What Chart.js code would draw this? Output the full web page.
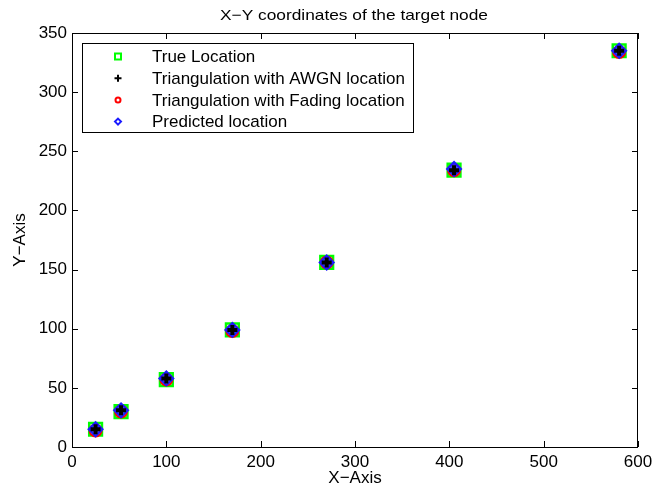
<!DOCTYPE html>
<html>
<head>
<meta charset="utf-8">
<script src="https://cdn.jsdelivr.net/npm/chart.js@4.4.0/dist/chart.umd.min.js"></script>
<style>
  html, body { margin: 0; padding: 0; background: #fff; }
  #wrap { width: 653px; height: 489px; }
</style>
</head>
<body>
<div id="wrap"><canvas id="chart" width="653" height="489"></canvas></div>
<script>
// data
const trueX = [25, 52, 100, 170, 270, 405, 580];
const trueY = [15, 30, 57, 99, 156, 234, 335];
const awgnX = [25, 52, 100, 170, 270, 405, 580];
const awgnY = [15, 31, 58, 99, 156, 234, 335];
const fadingX = [25, 52, 100, 170, 270, 405, 580];
const fadingY = [14, 30, 57, 98, 156, 234, 334];
const predX = [25, 52, 100, 170, 270, 405, 580];
const predY = [15, 31, 58, 99, 156, 235, 335];

const xTicks = [0, 100, 200, 300, 400, 500, 600];
const yTicks = [0, 50, 100, 150, 200, 250, 300, 350];

const labels = ["True Location", "Triangulation with AWGN location",
  "Triangulation with Fading location", "Predicted location"];

const FONT = "'Liberation Sans', Arial, sans-serif";

function toPoints(xs, ys) {
  return xs.map((x, i) => ({ x: x, y: ys[i] }));
}

// draws the boxed frame with inside ticks, MATLAB style, plus the legend
const framePlugin = {
  id: "frame",
  afterDraw(chart) {
    const ctx = chart.ctx;
    const a = chart.chartArea;
    const xs = chart.scales.x, ys = chart.scales.y;
    ctx.save();
    ctx.strokeStyle = "#000";
    ctx.lineWidth = 1;
    ctx.strokeRect(a.left + 0.5, a.top + 0.5, a.right - a.left - 1, a.bottom - a.top);
    ctx.beginPath();
    xTicks.forEach(v => {
      const px = Math.round(xs.getPixelForValue(v)) + 0.5;
      ctx.moveTo(px, a.bottom); ctx.lineTo(px, a.bottom - 6);
      ctx.moveTo(px, a.top); ctx.lineTo(px, a.top + 6);
    });
    yTicks.forEach(v => {
      const py = Math.round(ys.getPixelForValue(v)) + 0.5;
      ctx.moveTo(a.left, py); ctx.lineTo(a.left + 6, py);
      ctx.moveTo(a.right, py); ctx.lineTo(a.right - 6, py);
    });
    ctx.stroke();

    // legend box in the top-left corner
    const lx = a.left + 10, ly = a.top + 10, lw = 331, lh = 89;
    ctx.fillStyle = "#fff";
    ctx.fillRect(lx, ly, lw, lh);
    ctx.strokeRect(lx + 0.5, ly + 0.5, lw, lh);
    ctx.font = "17px " + FONT;
    ctx.textBaseline = "middle";
    chart.data.datasets.forEach((ds, i) => {
      const cy = ly + 13.5 + i * 21.7;
      const cx = lx + 36;
      ctx.strokeStyle = ds.borderColor;
      ctx.lineWidth = 2;
      ctx.beginPath();
      if (ds.pointStyle === "rect") {
        ctx.rect(cx - 3, cy - 3, 6, 6);
      } else if (ds.pointStyle === "cross") {
        ctx.moveTo(cx - 3.5, cy); ctx.lineTo(cx + 3.5, cy);
        ctx.moveTo(cx, cy - 3.5); ctx.lineTo(cx, cy + 3.5);
      } else if (ds.pointStyle === "circle") {
        ctx.arc(cx, cy, 2.5, 0, Math.PI * 2);
      } else {
        ctx.moveTo(cx, cy - 3); ctx.lineTo(cx + 3, cy);
        ctx.lineTo(cx, cy + 3); ctx.lineTo(cx - 3, cy); ctx.closePath();
      }
      ctx.stroke();
      ctx.fillStyle = "#000";
      ctx.fillText(ds.label, lx + 70, cy + 1);
    });

    // title, slightly wide as in the picture
    const t = "X\u2212Y coordinates of the target node";
    ctx.font = "15px " + FONT;
    const w = ctx.measureText(t).width;
    const sx = 268 / w;
    ctx.translate(354, 16);
    ctx.scale(sx, 1);
    ctx.textAlign = "center";
    ctx.fillText(t, 0, 0);
    ctx.restore();
  }
};

const tickFont = { family: FONT, size: 17 };

new Chart(document.getElementById("chart").getContext("2d"), {
  type: "scatter",
  data: {
    datasets: [
      { label: labels[0], data: toPoints(trueX, trueY), pointStyle: "rect", pointRadius: 9,
        borderColor: "#00ff00", backgroundColor: "rgba(0,0,0,0)", borderWidth: 2.5, order: 4 },
      { label: labels[1], data: toPoints(awgnX, awgnY), pointStyle: "cross", pointRadius: 5,
        borderColor: "#000000", backgroundColor: "#000000", borderWidth: 4, order: 1 },
      { label: labels[2], data: toPoints(fadingX, fadingY), pointStyle: "circle", pointRadius: 6,
        borderColor: "#ff0000", backgroundColor: "rgba(0,0,0,0)", borderWidth: 2, order: 3 },
      { label: labels[3], data: toPoints(predX, predY), pointStyle: "rectRot", pointRadius: 7,
        borderColor: "#1a1aff", backgroundColor: "rgba(40,40,255,0.85)", borderWidth: 2, order: 2 }
    ]
  },
  options: {
    responsive: false,
    animation: false,
    layout: { padding: { top: 33, right: 15, left: 0, bottom: 0 } },
    plugins: {
      legend: { display: false },
      tooltip: { enabled: false },
      title: { display: false }
    },
    scales: {
      x: {
        type: "linear", min: 0, max: 600,
        afterBuildTicks: s => { s.ticks = xTicks.map(v => ({ value: v })); },
        afterFit: s => { s.height = 42; },
        grid: { display: false, drawTicks: true, tickLength: 5 },
        border: { display: false },
        ticks: { color: "#000", font: tickFont, padding: 0, maxRotation: 0 },
        title: { display: true, text: "X\u2212Axis", color: "#000", font: tickFont, padding: { top: 0, bottom: 0 } }
      },
      y: {
        type: "linear", min: 0, max: 350,
        afterBuildTicks: s => { s.ticks = yTicks.map(v => ({ value: v })); },
        afterFit: s => { s.width = 72; },
        grid: { display: false, drawTicks: false },
        border: { display: false },
        ticks: { color: "#000", font: tickFont, padding: 5 },
        title: { display: true, text: "Y\u2212Axis", color: "#000", font: tickFont, padding: { top: 10, bottom: 0 } }
      }
    }
  },
  plugins: [framePlugin]
});
</script>
</body>
</html>
